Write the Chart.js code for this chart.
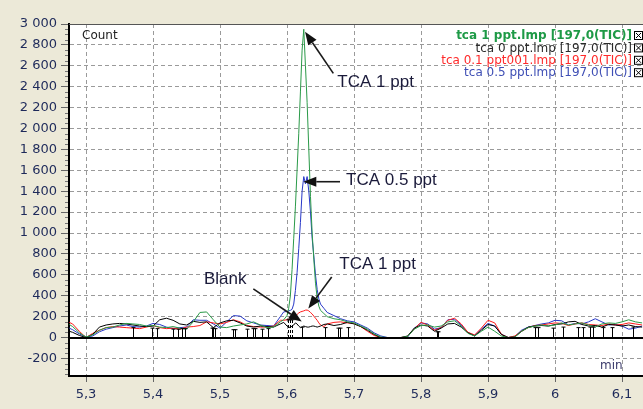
<!DOCTYPE html>
<html><head><meta charset="utf-8">
<script src="https://cdn.jsdelivr.net/npm/chart.js@4.4.0/dist/chart.umd.min.js"></script>
<style>html,body{margin:0;padding:0;background:#ECE9D8;overflow:hidden}#wrap{width:643px;height:409px}</style>
</head><body><div id="wrap"><canvas id="c" width="643" height="409"></canvas></div>
<script>
// retention time (min)
const times = [5.275,
 5.28,5.29,5.30,5.31,5.32,5.33,5.34,5.35,5.36,5.37, 5.38,5.39,5.40,5.41,5.42,5.43,5.44,5.45,5.46,5.47, 5.48,5.49,5.50,5.51,5.52,5.53,5.54,5.55,5.56,5.57, 5.58,5.59,
 5.595,
 5.600,5.6025,5.605,5.6075,5.610,5.6125,5.615,5.6175,5.620,5.6225,5.625,5.6275,5.630,5.6325,5.635,5.6375,5.640,5.6425,5.645,5.6475,5.650,
 5.655,
 5.66,5.67,5.68,5.69, 5.70,5.71,5.72,5.73,5.74,5.75,5.76,5.77,5.78,5.79, 5.80,5.81,5.82,5.83,5.84,5.85,5.86,5.87,5.88,5.89, 5.90,5.91,5.92,5.93,5.94,5.95,5.96,5.97,5.98,5.99, 6.00,6.01,6.02,6.03,6.04,6.05,6.06,6.07,6.08,6.09, 6.10,6.11,6.12,6.13];

const tca1ppt = [125,
 105,45,5,25,70,95,100,120,135,130, 125,110,115,100,95,105,90,80,150,240, 245,170,100,95,110,120,130,150,120,95, 100,150,
 170,
 210,280,400,650,950,1250,1600,1950,2350,2750,2950,2600,2250,1800,1350,1000,750,520,380,300,260,
 230,
 200,180,170,150, 140,110,80,35,5,0,0,0,10,80, 115,120,100,110,150,160,110,40,15,60, 100,60,15,0,5,60,95,110,120,110, 120,140,120,130,140,120,100,130,140,135, 150,170,150,140];

const tca0ppt = [60,
 50,20,0,30,100,120,130,135,130,120, 110,105,110,170,185,165,130,120,155,145, 150,95,140,160,165,140,110,100,110,105, 100,130,
 145,
 110,100,95,110,120,140,130,110,95,100,110,105,100,100,105,110,110,105,100,105,110,
 125,
 130,115,125,145, 130,105,70,30,0,0,0,0,15,90, 120,110,60,90,130,135,100,45,15,70, 125,110,30,0,5,60,100,110,115,110, 125,130,150,155,125,110,115,100,125,120, 110,120,105,100];

const tca01ppt = [145,
 130,60,0,40,70,95,105,100,95,90, 85,100,115,95,85,90,80,100,105,115, 150,140,130,145,170,150,115,105,100,100, 110,165,
 165,
 170,175,180,185,190,205,220,235,245,250,255,262,263,255,240,225,205,185,165,140,120,
 105,
 130,145,150,140, 135,105,60,20,0,0,0,0,10,85, 145,120,70,95,165,185,130,50,25,90, 165,140,30,0,15,60,95,115,120,130, 140,135,115,130,140,125,120,115,130,120, 125,140,130,120];

const tca05ppt = [90,
 75,35,5,15,55,80,95,110,120,105, 100,110,135,125,100,85,95,100,170,165, 165,130,90,150,210,205,160,140,120,115, 110,200,
 245,
 250,255,260,270,320,450,620,850,1100,1400,1540,1470,1540,1400,1200,950,780,600,460,370,320,
 280,
 240,210,180,160, 150,120,90,45,15,0,0,0,5,90, 140,130,80,95,170,175,120,50,20,80, 135,110,30,0,10,70,100,115,130,140, 165,160,120,135,130,150,180,150,120,125, 110,80,90,110];

const seriesLabels = ['tca 1 ppt.lmp [197,0(TIC)]','tca 0 ppt.lmp [197,0(TIC)]','tca 0.1 ppt001.lmp [197,0(TIC)]','tca 0.5 ppt.lmp [197,0(TIC)]'];
const yTickValues = [-200,0,200,400,600,800,1000,1200,1400,1600,1800,2000,2200,2400,2600,2800,3000];
const xTickValues = [5.3,5.4,5.5,5.6,5.7,5.8,5.9,6.0,6.1];
const xTickLabels = ['5,3','5,4','5,5','5,6','5,7','5,8','5,9','6','6,1'];

// integration markers
const markerTimes = [5.370,5.399,5.406,5.430,5.437,5.443,5.448,5.488,5.490,5.493,5.519,5.522,5.540,5.549,5.552,5.563,5.572,5.601,5.604,5.607,5.622,5.657,5.676,5.679,5.691,5.824,5.825,5.970,5.975,5.997,6.012,6.034,6.042,6.052,6.057,6.072,6.085,6.116];
const markerHeights = [95,90,85,80,80,85,85,90,90,85,75,75,80,85,85,80,85,170,170,170,100,95,90,90,95,55,55,95,95,90,100,95,95,100,100,95,95,100];

// annotations (data coordinates)
const noteTexts = ['TCA 1 ppt','TCA 0.5 ppt','Blank','TCA 1 ppt'];
const noteTextAt = [[5.6751,2438],[5.6881,1500],[5.4761,560],[5.6781,705]];
const noteTail = [[5.6691,2528],[5.6791,1491],[5.5497,466],[5.6667,579]];
const noteTip = [[5.6269,2926],[5.6243,1491],[5.6219,153],[5.6318,277]];

const lineColors = ['#2a9a48','#000000','#ff1a1a','#2838c8'];
const legendColors = ['#1e9a46','#2a2a2a','#ff2a2a','#3f4fb5'];
const seriesValues = [tca1ppt, tca0ppt, tca01ppt, tca05ppt];

const fmt = v => { const s = Math.abs(v).toString().replace(/\B(?=(\d{3})+(?!\d))/g,' '); return (v<0?'-':'')+s; };
const tickColor = '#1e2a5a';

const deco = {
  id:'deco',
  beforeDraw(chart){
    const {ctx, chartArea:a} = chart;
    ctx.save(); ctx.fillStyle='#ffffff'; ctx.fillRect(a.left,a.top,a.right-a.left,a.bottom-a.top); ctx.restore();
  },
  afterDatasetsDraw(chart){
    const {ctx, chartArea:a, scales:{x,y}} = chart;
    ctx.save();
    ctx.beginPath(); ctx.rect(a.left,a.top,a.right-a.left,a.bottom-a.top); ctx.clip();
    // baseline
    ctx.strokeStyle='#000'; ctx.lineWidth=2;
    const y0 = Math.round(y.getPixelForValue(0));
    ctx.beginPath(); ctx.moveTo(a.left,y0); ctx.lineTo(a.right,y0); ctx.stroke();
    // markers
    ctx.lineWidth=1;
    markerTimes.forEach((t,i)=>{
      const px = Math.round(x.getPixelForValue(t))+0.5, py = y.getPixelForValue(markerHeights[i]);
      ctx.setLineDash(markerHeights[i]>150?[3,2]:[]);
      ctx.beginPath(); ctx.moveTo(px,y0); ctx.lineTo(px,py); ctx.stroke();
      ctx.setLineDash([]);
      ctx.beginPath(); ctx.moveTo(px-2,py); ctx.lineTo(px+2,py); ctx.stroke();
    });
    ctx.restore();
    // annotations
    ctx.save();
    ctx.fillStyle='#1a1a3a'; ctx.strokeStyle='#1a1a1a';
    noteTexts.forEach((txt,i)=>{
      const tx=x.getPixelForValue(noteTextAt[i][0]), ty=y.getPixelForValue(noteTextAt[i][1]);
      ctx.font='17px "Liberation Sans", Arial, sans-serif'; ctx.textAlign='left'; ctx.textBaseline='middle';
      ctx.fillText(txt,tx,ty);
      const x1=x.getPixelForValue(noteTail[i][0]), y1=y.getPixelForValue(noteTail[i][1]);
      const x2=x.getPixelForValue(noteTip[i][0]), y2=y.getPixelForValue(noteTip[i][1]);
      const ang=Math.atan2(y2-y1,x2-x1), L=13, W=5;
      const bx=x2-L*Math.cos(ang), by=y2-L*Math.sin(ang);
      ctx.lineWidth=1.6; ctx.beginPath(); ctx.moveTo(x1,y1); ctx.lineTo(bx,by); ctx.stroke();
      ctx.beginPath(); ctx.moveTo(x2,y2);
      ctx.lineTo(bx+W*Math.sin(ang), by-W*Math.cos(ang));
      ctx.lineTo(bx-W*Math.sin(ang), by+W*Math.cos(ang));
      ctx.closePath(); ctx.fillStyle='#111'; ctx.fill(); ctx.fillStyle='#1a1a3a';
    });
    ctx.restore();
  },
  afterDraw(chart){
    const {ctx, chartArea:a, scales:{y}} = chart;
    ctx.save();
    // top border
    ctx.strokeStyle='#555'; ctx.lineWidth=1;
    ctx.beginPath(); ctx.moveTo(a.left,a.top+0.5); ctx.lineTo(a.right,a.top+0.5); ctx.stroke();
    // minor y ticks
    ctx.strokeStyle='#777';
    for(let v=-350; v<=3000; v+=50){ if(v%200===0) continue; const py=Math.round(y.getPixelForValue(v))+0.5;
      ctx.beginPath(); ctx.moveTo(a.left-4,py); ctx.lineTo(a.left-1,py); ctx.stroke(); }
    // axis titles
    ctx.fillStyle='#222'; ctx.font='12px "DejaVu Sans", sans-serif'; ctx.textBaseline='middle'; ctx.textAlign='left';
    ctx.fillText('Count', a.left+13, a.top+12);
    ctx.fillStyle='#3a3a6a';
    ctx.fillText('min', a.right-43, a.bottom-10);
    // legend
    ctx.textAlign='right';
    seriesLabels.forEach((lab,i)=>{
      const ly = 36 + i*12.4;
      ctx.font=(i===0?'bold ':'')+'12px "DejaVu Sans", sans-serif';
      ctx.fillStyle=legendColors[i]; ctx.fillText(lab, 632, ly);
      ctx.fillStyle='#fff'; ctx.fillRect(634.5,ly-4.5,8,8);
      ctx.strokeStyle='#000'; ctx.lineWidth=1; ctx.strokeRect(634.5,ly-4.5,8,8);
      ctx.beginPath(); ctx.moveTo(636,ly-3); ctx.lineTo(641,ly+2); ctx.moveTo(641,ly-3); ctx.lineTo(636,ly+2); ctx.stroke();
    });
    ctx.restore();
  }
};

new Chart(document.getElementById('c'), {
  type:'line',
  data:{ datasets: seriesLabels.map((lab,i)=>({
    label: lab,
    data: times.map((t,j)=>({x:t, y:seriesValues[i][j]})),
    borderColor: lineColors[i], borderWidth:1, pointRadius:0, tension:0, fill:false
  })) },
  options:{
    responsive:false, animation:false, devicePixelRatio:1,
    layout:{padding:{top:24,right:0,left:0,bottom:0}},
    plugins:{legend:{display:false}, tooltip:{enabled:false}},
    scales:{
      x:{ type:'linear', min:5.2746, max:6.1313,
        afterBuildTicks:s=>{ s.ticks = xTickValues.map(v=>({value:v})); },
        afterFit:s=>{ s.height=33; },
        ticks:{ callback:(v,i)=>xTickLabels[i], font:{family:'DejaVu Sans', size:13}, color:tickColor, padding:5, maxRotation:0, autoSkip:false },
        grid:{ color:'#9a9a9a', lineWidth:1, tickLength:6, tickColor:'#666', tickBorderDash:[] },
        border:{ color:'#000', width:2, dash:[4,3] }
      },
      y:{ min:-368, max:3000,
        afterBuildTicks:s=>{ s.ticks = yTickValues.map(v=>({value:v})); },
        afterFit:s=>{ s.width=69; },
        ticks:{ callback:v=>fmt(v), font:{family:'DejaVu Sans', size:13}, color:tickColor, padding:4, autoSkip:false },
        grid:{ color:'#9a9a9a', lineWidth:1, tickLength:8, tickColor:'#666', tickBorderDash:[] },
        border:{ color:'#000', width:2, dash:[4,3] }
      }
    }
  },
  plugins:[deco]
});
</script></body></html>
